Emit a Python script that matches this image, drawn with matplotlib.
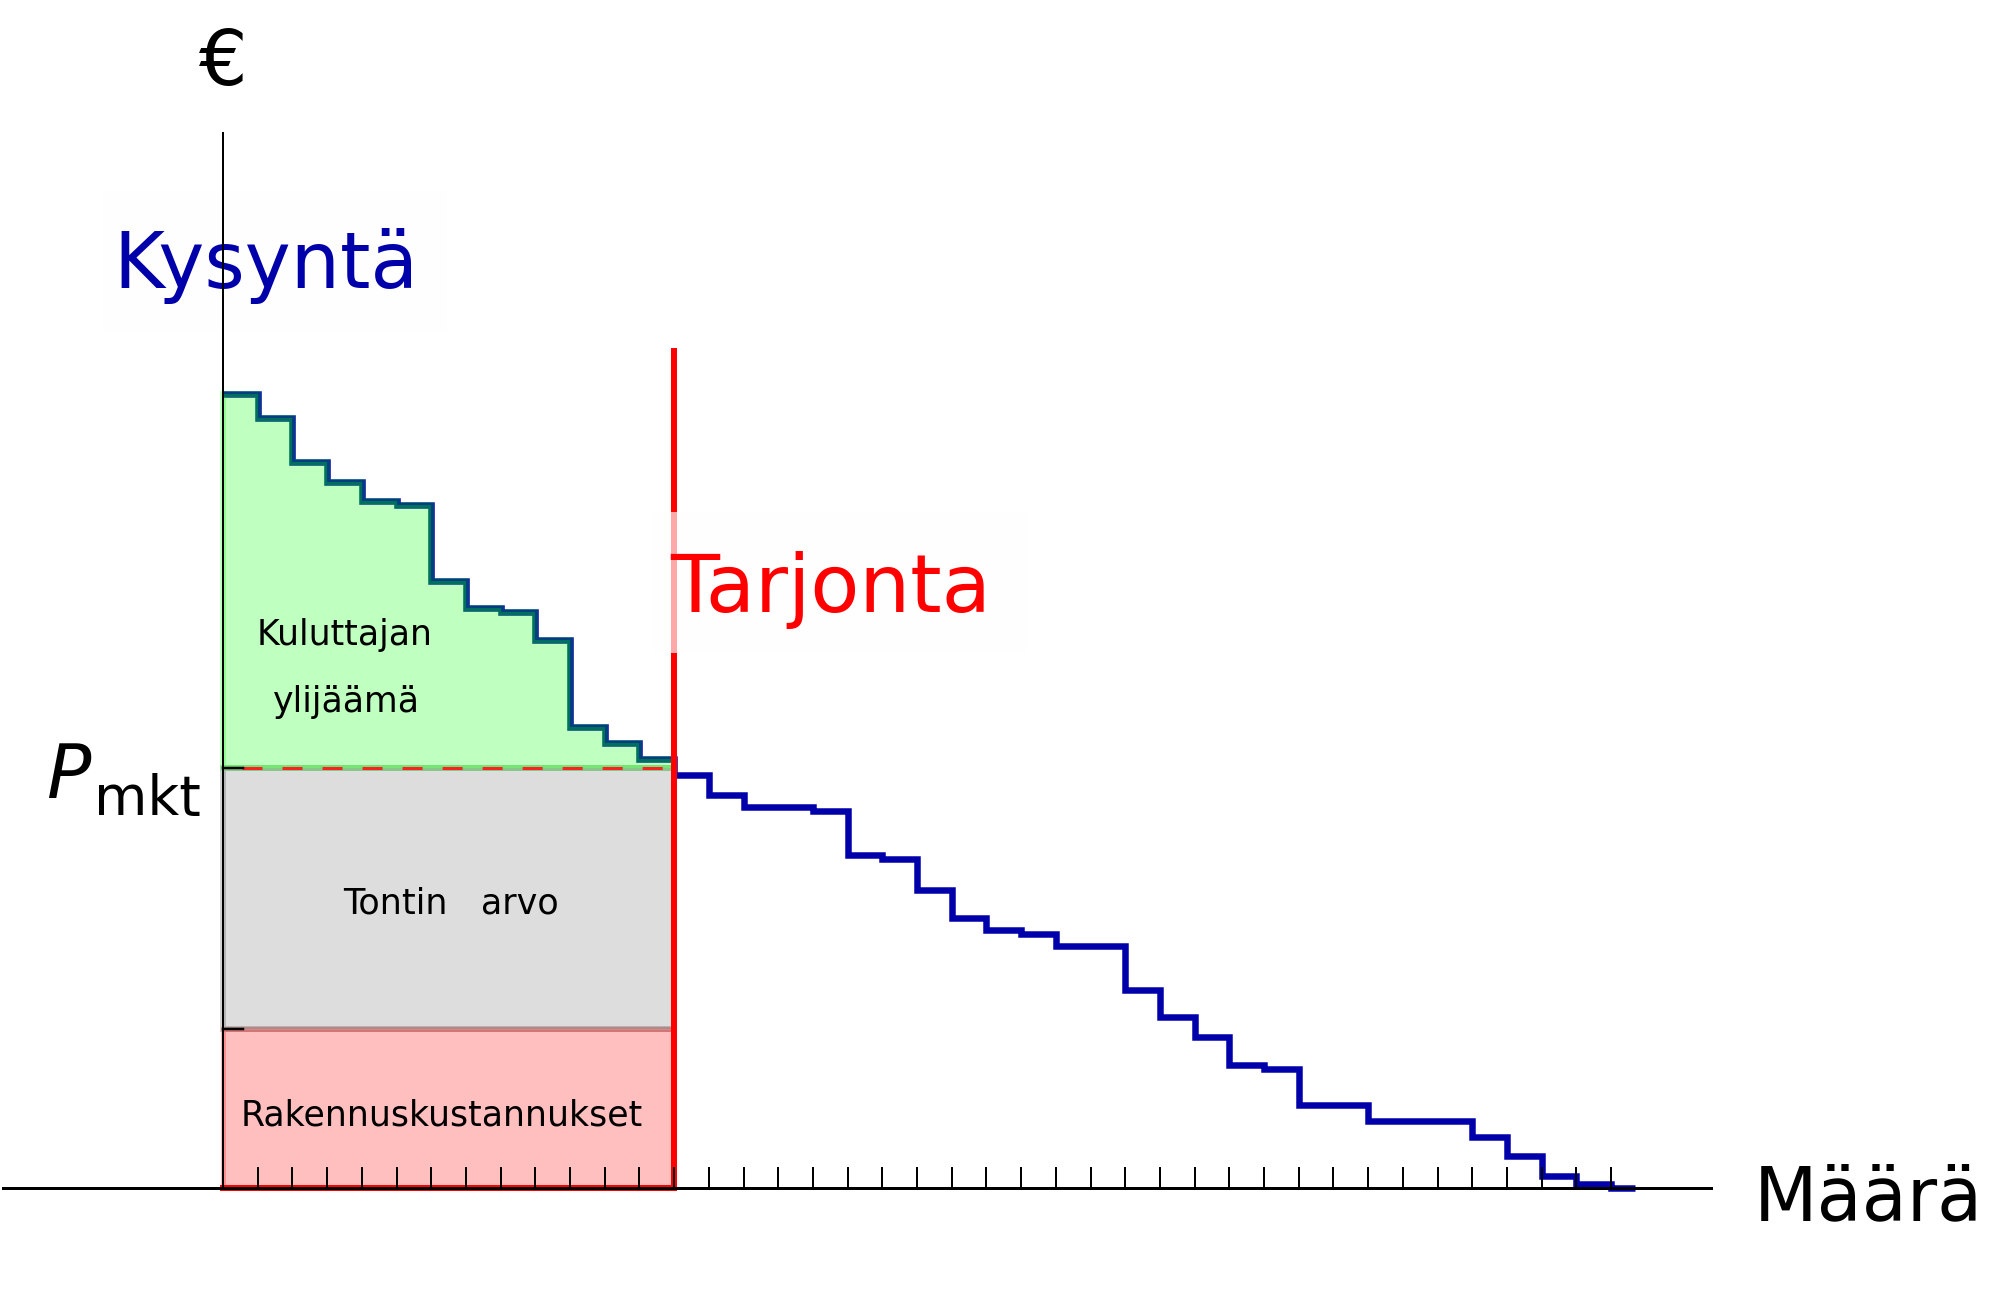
import numpy as np
import matplotlib
matplotlib.use("Agg")
import matplotlib.pyplot as plt
from matplotlib.patches import Rectangle, Polygon

plt.rcParams['font.family'] = ['DejaVu Sans']

# ---- data ----
demand_prices = [79.4, 77.0, 72.6, 70.6, 68.7, 68.3, 60.7, 58.0, 57.6, 54.8, 46.1, 44.5, 42.9,
                 41.3, 39.3, 38.1, 38.1, 37.7, 33.3, 32.9, 29.8, 27.0, 25.8, 25.4, 24.2, 24.2,
                 19.8, 17.1, 15.1, 12.3, 11.9, 8.3, 8.3, 6.7, 6.7, 6.7, 5.1, 3.2, 1.2, 0.4, 0.0]
demand_edges = list(range(0, 41)) + [40.7]
supply_quantity = 13
supply_top = 83.7
market_price = 42.0
construction_cost = 15.9
x_ticks = list(range(1, 41))

label_demand = "Kysyntä"
label_supply = "Tarjonta"
label_surplus = ["Kuluttajan", "ylijäämä"]
label_land = "Tontin   arvo"
label_cost = "Rakennuskustannukset"
label_x = "Määrä"
label_y = "€"

PX = 0.72  # pixels -> points at dpi 100

fig = plt.figure(figsize=(20, 13.08), dpi=100)
ax = fig.add_axes([0, 0, 1, 1])
ax.set_xlim(-223 / 34.7, 1777 / 34.7)
ax.set_ylim(-12, 118.8)
ax.axis('off')

q = supply_quantity
# construction cost rectangle (pink)
ax.add_patch(Rectangle((0, 0), q, construction_cost, facecolor=(1, 0, 0, 0.25),
                       edgecolor=(1, 0, 0, 0.25), lw=5 * PX, zorder=1))
# land value rectangle (gray)
ax.add_patch(Rectangle((0, construction_cost), q, market_price - construction_cost,
                       facecolor=(0, 0, 0, 0.133), edgecolor=(0, 0, 0, 0.18), lw=6 * PX, zorder=1.1))

# demand staircase
ax.stairs(demand_prices, demand_edges, baseline=None, color='#0000aa', lw=6.5 * PX, zorder=2)

# consumer surplus polygon (green, drawn over the line)
verts = [(0, market_price)]
for i in range(q):
    verts.append((demand_edges[i], demand_prices[i]))
    verts.append((demand_edges[i + 1], demand_prices[i]))
verts.append((q, market_price))
ax.add_patch(Polygon(verts, closed=True, facecolor=(0, 1, 0, 0.25),
                     edgecolor=(0, 1, 0, 0.25), lw=6 * PX, zorder=3))

# supply curve
ax.plot([0, q, q], [0, 0, supply_top], color='#ff0000', lw=6 * PX, zorder=4,
        solid_joinstyle='miter')

# market price dashed line
ax.plot([0.55, q], [market_price, market_price], color='#ff2020', lw=3 * PX,
        dashes=(6.67, 6.67), zorder=4.5)

# label boxes
ax.add_patch(Rectangle((-3.46, 85.6), 9.92, 14.2, facecolor=(0.995, 0.995, 0.995),
                       edgecolor='none', zorder=2.5))
ax.add_patch(Rectangle((12.39, 53.5), 10.78, 14.1, facecolor=(0.997, 0.997, 0.997, 0.67),
                       edgecolor='none', zorder=5))

ax.text(-3.15, 90.0, label_demand, color='#0000aa', fontsize=56, ha='left', va='baseline', zorder=6)
ax.text(12.9, 57.6, label_supply, color='#ff0000', fontsize=57.8, ha='left', va='baseline', zorder=6)

# axes
ax.plot([-6.34, 42.88], [0, 0], color='black', lw=3 * PX, zorder=7)
ax.plot([0, 0], [0, 105.5], color='black', lw=2 * PX, zorder=7)
for t in x_ticks:
    ax.plot([t, t], [0, 2.0], color='black', lw=2 * PX, zorder=7)
for yv in [market_price, construction_cost]:
    ax.plot([0, 0.58], [yv, yv], color='black', lw=2.5 * PX, zorder=7)

# axis labels
ax.text(0, 110.3, label_y, fontsize=55, ha='center', va='baseline', zorder=6)
ax.text(44.1, -3.2, label_x, fontsize=53, ha='left', va='baseline', zorder=6)
ax.text(-5.1, 39.0, "P", fontsize=53, fontstyle='italic', ha='left', va='baseline', zorder=6)
ax.text(-3.72, 37.3, "mkt", fontsize=39.5, ha='left', va='baseline', zorder=6)

# region labels
ax.text(3.5, 54.3, label_surplus[0], fontsize=25, ha='center', va='baseline', zorder=6)
ax.text(3.57, 47.6, label_surplus[1], fontsize=25, ha='center', va='baseline', zorder=6)
ax.text(3.46, 27.5, label_land, fontsize=25.2, ha='left', va='baseline', zorder=6)
ax.text(0.5, 6.3, label_cost, fontsize=25, ha='left', va='baseline', zorder=6)

fig.savefig("out.png", dpi=100)
